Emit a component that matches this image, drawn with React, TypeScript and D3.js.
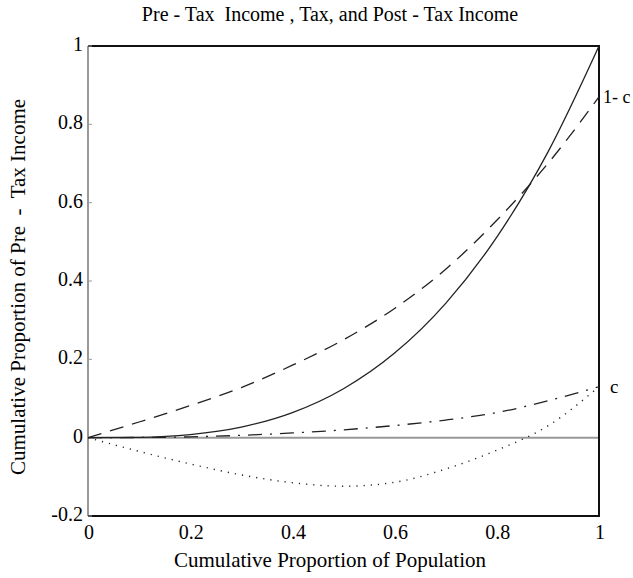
import React, { useEffect, useRef } from "react";
import * as d3 from "d3";

// population share (x) for every series
const population = [0, 0.1, 0.2, 0.3, 0.4, 0.5, 0.6, 0.7, 0.8, 0.9, 1];
// pre-tax income (solid)
const preTax = [0, 0.001, 0.008, 0.027, 0.064, 0.125, 0.216, 0.343, 0.512, 0.729, 1];
// 1 - c (dashed)
const oneMinusC = [0, 0.04, 0.082, 0.128, 0.185, 0.25, 0.33, 0.43, 0.555, 0.7, 0.87];
// c (dash-dot)
const cSeries = [0, 0.0005, 0.002, 0.006, 0.012, 0.02, 0.031, 0.045, 0.064, 0.094, 0.13];
// dotted curve
const dotted = [0, -0.035, -0.067, -0.095, -0.115, -0.124, -0.114, -0.08, -0.032, 0.03, 0.13];

const xTicks = [0, 0.2, 0.4, 0.6, 0.8, 1];
const yTicks = [-0.2, 0, 0.2, 0.4, 0.6, 0.8, 1];

const App = () => {
  const ref = useRef<SVGSVGElement | null>(null);

  useEffect(() => {
    const svg = d3.select(ref.current);
    svg.selectAll("*").remove();

    const font = "'Liberation Serif', 'Times New Roman', serif";
    const x = d3.scaleLinear().domain([0, 1]).range([88, 599]);
    const y = d3.scaleLinear().domain([-0.2, 1]).range([516, 46]);
    const fmt = (d: number) => String(+d.toFixed(1));

    // title
    svg
      .append("text")
      .attr("x", 330)
      .attr("y", 21)
      .attr("text-anchor", "middle")
      .style("font-family", font)
      .style("font-size", "20px")
      .style("white-space", "pre")
      .text("Pre - Tax  Income , Tax, and Post - Tax Income");

    // zero line
    svg
      .append("line")
      .attr("x1", x(0))
      .attr("x2", x(1))
      .attr("y1", y(0))
      .attr("y2", y(0))
      .attr("stroke", "#999")
      .attr("stroke-width", 2);

    // frame: left grey, others black
    svg
      .append("line")
      .attr("x1", x(0))
      .attr("x2", x(0))
      .attr("y1", y(1))
      .attr("y2", y(-0.2))
      .attr("stroke", "#999")
      .attr("stroke-width", 2);
    svg
      .append("path")
      .attr("d", `M${x(0)},${y(1)}H${x(1)}V${y(-0.2)}H${x(0)}`)
      .attr("fill", "none")
      .attr("stroke", "#111")
      .attr("stroke-width", 2);

    // y ticks
    svg
      .selectAll(".ytick")
      .data(yTicks)
      .enter()
      .append("line")
      .attr("x1", x(0))
      .attr("x2", x(0) + 4)
      .attr("y1", (d) => y(d))
      .attr("y2", (d) => y(d))
      .attr("stroke", "#999")
      .attr("stroke-width", 1);

    svg
      .selectAll(".ylab")
      .data(yTicks)
      .enter()
      .append("text")
      .attr("x", x(0) - 5)
      .attr("y", (d) => y(d) + 5)
      .attr("text-anchor", "end")
      .style("font-family", font)
      .style("font-size", "20px")
      .text(fmt);

    svg
      .selectAll(".xlab")
      .data(xTicks)
      .enter()
      .append("text")
      .attr("x", (d) => x(d) + 1)
      .attr("y", 539)
      .attr("text-anchor", "middle")
      .style("font-family", font)
      .style("font-size", "20px")
      .text(fmt);

    // axis titles
    svg
      .append("text")
      .attr("x", 330)
      .attr("y", 567)
      .attr("text-anchor", "middle")
      .style("font-family", font)
      .style("font-size", "21px")
      .text("Cumulative Proportion of Population");

    svg
      .append("text")
      .attr("transform", "translate(25, 287) rotate(-90)")
      .attr("text-anchor", "middle")
      .style("font-family", font)
      .style("font-size", "21px")
      .style("white-space", "pre")
      .text("Cumulative Proportion of Pre  -  Tax Income");

    const line = d3
      .line<number>()
      .x((d, i) => x(population[i]))
      .y((d) => y(d))
      .curve(d3.curveMonotoneX);

    const series = [
      { data: preTax, dash: null, width: 1.3 },
      { data: oneMinusC, dash: "14,9", width: 1.3 },
      { data: cSeries, dash: "14,8,2,8", width: 1.3 },
      { data: dotted, dash: "1.2,6", width: 1.4 },
    ];

    series.forEach((s) => {
      svg
        .append("path")
        .datum(s.data)
        .attr("fill", "none")
        .attr("stroke", "#222")
        .attr("stroke-width", s.width)
        .attr("stroke-dasharray", s.dash)
        .attr("d", line);
    });

    // curve labels
    svg
      .append("text")
      .attr("x", 603)
      .attr("y", y(0.87) + 6)
      .style("font-family", font)
      .style("font-size", "18px")
      .style("white-space", "pre")
      .text("1- c");
    svg
      .append("text")
      .attr("x", 610)
      .attr("y", y(0.13) + 6)
      .style("font-family", font)
      .style("font-size", "19px")
      .text("c");
  }, []);

  return (
    <svg
      ref={ref}
      width={633}
      height={578}
      style={{ position: "absolute", left: 0, top: 0, background: "#fff" }}
    />
  );
};

export default App;
